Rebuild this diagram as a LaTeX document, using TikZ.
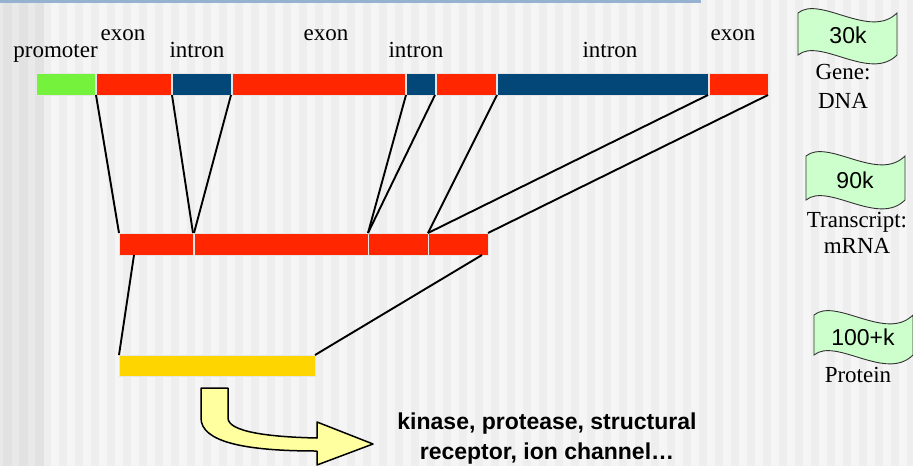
\documentclass[tikz,border=0pt]{standalone}
\usepackage{fontspec}
\setmainfont{Liberation Serif}
\newfontfamily\arialf{Liberation Sans}
\usetikzlibrary{calc}
\definecolor{bgc}{HTML}{F5F5F5}
\definecolor{stripec}{HTML}{EEEEEE}
\definecolor{darkstripe}{HTML}{E2E2E2}
\definecolor{topc}{HTML}{95B2D0}
\definecolor{promc}{HTML}{74F23C}
\definecolor{exonc}{HTML}{FF2600}
\definecolor{intronc}{HTML}{034678}
\definecolor{protc}{HTML}{FFD500}
\definecolor{flagc}{HTML}{CCFFCC}
\definecolor{arrowc}{HTML}{FFFFA0}
\definecolor{segedge}{HTML}{E6E6E6}
\tikzset{
  seg/.style={draw=segedge, line width=0.8pt, inner sep=0pt, outer sep=0pt, minimum height=22pt},
  lbl/.style={anchor=base, inner sep=0pt, font=\fontsize{23}{27}\selectfont},
  flagtxt/.style={anchor=base, inner sep=0pt, font=\arialf\fontsize{23}{27}\selectfont},
  link/.style={draw=black, line width=1.9pt},
  flagshape/.style={fill=flagc, draw=black!80, line width=0.9pt},
}
\begin{document}
\begin{tikzpicture}[x=1pt,y=-1pt]
% background
\fill[bgc] (0,0) rectangle (913,466);
\useasboundingbox (0,0) rectangle (913,466);
\foreach \i in {0,...,54} {\fill[stripec] (43+16*\i,0) rectangle +(8,466);}
\fill[stripec!60!darkstripe] (0,0) rectangle (43,466);
\foreach \xx in {3,19,35} {\fill[darkstripe] (\xx,0) rectangle +(8.5,466);}
\fill[topc] (0,0) rectangle (701,3);

% gene (DNA) bar
\node[seg, fill=promc, minimum width=59pt] (prom) at (65.5,84) {};
\node[seg, fill=exonc, minimum width=75pt] (ex1) at (133.5,84) {};
\node[seg, fill=intronc, minimum width=59pt] (in1) at (201.5,84) {};
\node[seg, fill=exonc, minimum width=173pt] (ex2) at (318.5,84) {};
\node[seg, fill=intronc, minimum width=29pt] (in2) at (420.5,84) {};
\node[seg, fill=exonc, minimum width=60pt] (ex3) at (466,84) {};
\node[seg, fill=intronc, minimum width=211pt] (in3) at (602.5,84) {};
\node[seg, fill=exonc, minimum width=59pt] (ex4) at (738.5,84) {};

% labels
\node[lbl] (lprom) at (55.5,57) {promoter};
\node[lbl] (lex1) at (123,40) {exon};
\node[lbl] (lin1) at (197,57) {intron};
\node[lbl] (lex2) at (326,40) {exon};
\node[lbl] (lin2) at (416,57) {intron};
\node[lbl] (lin3) at (610,57) {intron};
\node[lbl] (lex4) at (733,40) {exon};

% mRNA bar
\node[seg, fill=exonc, minimum width=74pt] (m1) at (156,244) {};
\node[seg, fill=exonc, minimum width=174pt] (m2) at (281,244) {};
\node[seg, fill=exonc, minimum width=60pt] (m3) at (398,244) {};
\node[seg, fill=exonc, minimum width=60pt] (m4) at (458,244) {};

% protein bar
\node[seg, fill=protc, minimum width=196pt, minimum height=21pt] (prot) at (217,365.5) {};

% connectors gene -> mRNA
\draw[link] (ex1.south west) -- (m1.north west);
\draw[link] (in1.south west) -- (m1.north east);
\draw[link] (in1.south east) -- (m2.north west);
\draw[link] (in2.south west) -- (m2.north east);
\draw[link] (in2.south east) -- (m3.north west);
\draw[link] (in3.south west) -- (m3.north east);
\draw[link] (in3.south east) -- (m4.north west);
\draw[link] (ex4.south east) -- (m4.north east);
% connectors mRNA -> protein
\coordinate (ms) at ($(m1.south west)+(15,0)$);
\coordinate (me) at ($(m4.south east)+(-6,0)$);
\draw[link] (ms) -- (prot.north west);
\draw[link] (me) -- (prot.north east);

% flags
\begin{scope}[shift={(798,13)}]
\path[flagshape] (0,0) .. controls (22,-18) and (72,27) .. (99,0) -- (99,42) .. controls (72,69) and (22,24) .. (0,42) -- cycle;
\node[flagtxt] (f1) at (50,30) {30k};
\end{scope}
\node[lbl] (gene) at (843,79) {Gene:};
\node[lbl] (dna) at (843,108) {DNA};

\begin{scope}[shift={(806,156)}]
\path[flagshape] (0,0) .. controls (22,-18) and (72,27) .. (99,0) -- (99,44) .. controls (72,71) and (22,26) .. (0,44) -- cycle;
\node[flagtxt] (f2) at (49,32) {90k};
\end{scope}
\node[lbl] (trans) at (857,227) {Transcript:};
\node[lbl] (mrna) at (857,253) {mRNA};

\begin{scope}[shift={(814,315)}]
\path[flagshape] (0,0) .. controls (22,-18) and (72,27) .. (99,0) -- (99,40) .. controls (72,67) and (22,22) .. (0,40) -- cycle;
\node[flagtxt] (f3) at (49,30) {100+k};
\end{scope}
\node[lbl] (protl) at (858,382) {Protein};

% bent arrow
\path[fill=arrowc, draw=black, line width=1.5pt, line join=round]
  (201,388) -- (228,388) -- (228,418)
  .. controls (228,432) and (270,437) .. (317,438)
  -- (317,422) -- (373,444) -- (317,465) -- (317,451)
  .. controls (245,451) and (201,442) .. (201,418) -- cycle;

\node[anchor=base, align=center, inner sep=0pt, font=\arialf\bfseries\fontsize{23}{30}\selectfont] (funcs) at (547,459) {kinase, protease, structural\\receptor, ion channel…};
\end{tikzpicture}
\end{document}
